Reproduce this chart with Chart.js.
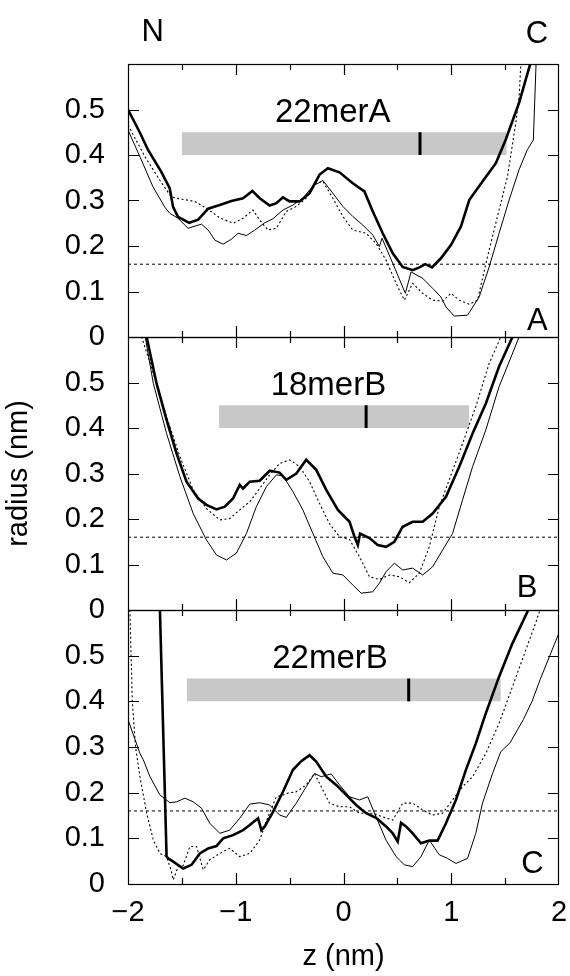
<!DOCTYPE html>
<html><head><meta charset="utf-8">
<script src="https://cdn.jsdelivr.net/npm/chart.js@4.4.0/dist/chart.umd.min.js"></script>
<style>
html,body{margin:0;padding:0;background:#fff;}
#wrap{position:relative;width:570px;height:976px;overflow:hidden;}
#wrap canvas{position:absolute;left:0;top:0;}
</style></head><body>
<div id="wrap">
<canvas id="cA" width="570" height="976"></canvas>
<canvas id="cB" width="570" height="976"></canvas>
<canvas id="cC" width="570" height="976"></canvas>
</div>
<script>
// ---------- data ----------
const zTickLabels = [-2, -1, 0, 1, 2];
const rTickLabels = [0, 0.1, 0.2, 0.3, 0.4, 0.5];
const panelNames = ['22merA', '18merB', '22merB'];
const panelLetters = ['A', 'B', 'C'];
const cutoffRadius = 0.16;
const barStart = [-1.5, -1.155, -1.455];
const barEnd = [1.515, 1.167, 1.46];
const barLow = 0.40;
const barHigh = 0.45;
const barMark = [0.71, 0.21, 0.605];

// panel A
const aThickZ = [-2, -1.889, -1.814, -1.691, -1.613, -1.582, -1.536, -1.432, -1.349, -1.256, -1.148, -1.04, -0.932, -0.846, -0.778, -0.685, -0.623, -0.562, -0.5, -0.407, -0.315, -0.222, -0.145, -0.037, 0.086, 0.194, 0.272, 0.364, 0.457, 0.549, 0.642, 0.704, 0.759, 0.821, 0.904, 0.997, 1.09, 1.167, 1.29, 1.414, 1.506, 1.63, 1.745];
const aThickR = [0.5, 0.449, 0.411, 0.363, 0.327, 0.286, 0.264, 0.251, 0.258, 0.282, 0.29, 0.299, 0.305, 0.321, 0.305, 0.289, 0.294, 0.307, 0.298, 0.298, 0.316, 0.357, 0.371, 0.362, 0.338, 0.32, 0.276, 0.228, 0.184, 0.154, 0.147, 0.153, 0.16, 0.153, 0.173, 0.202, 0.243, 0.301, 0.342, 0.382, 0.434, 0.515, 0.61];
const aThinZ = [-2, -1.876, -1.768, -1.66, -1.613, -1.536, -1.443, -1.318, -1.256, -1.194, -1.117, -1.04, -0.978, -0.901, -0.824, -0.731, -0.654, -0.562, -0.469, -0.377, -0.284, -0.191, -0.099, -0.006, 0.086, 0.179, 0.272, 0.333, 0.358, 0.457, 0.574, 0.627, 0.735, 0.827, 0.904, 0.951, 1.028, 1.151, 1.259, 1.352, 1.444, 1.537, 1.63, 1.707, 1.762, 1.787, 1.79];
const aThinR = [0.455, 0.389, 0.33, 0.286, 0.272, 0.261, 0.239, 0.248, 0.235, 0.213, 0.204, 0.215, 0.228, 0.223, 0.235, 0.251, 0.26, 0.279, 0.29, 0.305, 0.332, 0.344, 0.316, 0.287, 0.265, 0.246, 0.224, 0.199, 0.217, 0.162, 0.096, 0.143, 0.129, 0.107, 0.088, 0.066, 0.046, 0.048, 0.088, 0.154, 0.228, 0.301, 0.368, 0.412, 0.433, 0.6, 0.62];
const aDotZ = [-2, -1.845, -1.706, -1.598, -1.505, -1.38, -1.272, -1.148, -1.025, -0.932, -0.84, -0.778, -0.701, -0.623, -0.531, -0.438, -0.346, -0.253, -0.191, -0.099, -0.006, 0.086, 0.21, 0.302, 0.395, 0.488, 0.565, 0.642, 0.735, 0.827, 0.92, 0.997, 1.074, 1.167, 1.244, 1.336, 1.429, 1.522, 1.599, 1.63, 1.645, 1.65];
const aDotR = [0.466, 0.397, 0.345, 0.308, 0.303, 0.298, 0.283, 0.262, 0.25, 0.261, 0.279, 0.257, 0.235, 0.239, 0.276, 0.287, 0.305, 0.338, 0.342, 0.305, 0.265, 0.235, 0.228, 0.206, 0.169, 0.118, 0.081, 0.118, 0.096, 0.081, 0.079, 0.096, 0.081, 0.072, 0.081, 0.176, 0.265, 0.353, 0.471, 0.529, 0.596, 0.62];

// panel B
const bThickZ = [-1.86, -1.827, -1.735, -1.642, -1.549, -1.457, -1.349, -1.272, -1.179, -1.102, -1.025, -0.963, -0.932, -0.87, -0.778, -0.685, -0.593, -0.531, -0.438, -0.346, -0.253, -0.16, -0.052, 0.056, 0.102, 0.133, 0.154, 0.241, 0.318, 0.395, 0.472, 0.549, 0.642, 0.735, 0.827, 0.951, 1.074, 1.198, 1.321, 1.444, 1.568, 1.6];
const bThickR = [0.63, 0.6, 0.498, 0.418, 0.344, 0.282, 0.245, 0.231, 0.221, 0.227, 0.245, 0.275, 0.267, 0.282, 0.284, 0.306, 0.302, 0.286, 0.3, 0.33, 0.308, 0.264, 0.22, 0.194, 0.161, 0.143, 0.168, 0.158, 0.143, 0.139, 0.15, 0.183, 0.194, 0.194, 0.212, 0.249, 0.315, 0.388, 0.454, 0.535, 0.6, 0.62];
const bThinZ = [-1.87, -1.84, -1.765, -1.642, -1.518, -1.395, -1.272, -1.179, -1.086, -0.994, -0.901, -0.809, -0.716, -0.623, -0.562, -0.469, -0.377, -0.284, -0.191, -0.099, -0.006, 0.086, 0.164, 0.272, 0.333, 0.395, 0.472, 0.549, 0.642, 0.735, 0.827, 0.92, 1.012, 1.105, 1.198, 1.321, 1.444, 1.63, 1.66];
const bThinR = [0.63, 0.6, 0.498, 0.388, 0.293, 0.212, 0.154, 0.121, 0.11, 0.125, 0.168, 0.227, 0.271, 0.297, 0.295, 0.26, 0.22, 0.168, 0.117, 0.081, 0.077, 0.055, 0.037, 0.04, 0.059, 0.084, 0.103, 0.088, 0.092, 0.077, 0.095, 0.132, 0.168, 0.242, 0.315, 0.396, 0.491, 0.6, 0.62];
const bDotZ = [-1.9, -1.873, -1.765, -1.642, -1.518, -1.395, -1.272, -1.148, -1.056, -0.963, -0.87, -0.778, -0.685, -0.593, -0.5, -0.407, -0.315, -0.222, -0.13, -0.037, 0.056, 0.148, 0.241, 0.333, 0.426, 0.519, 0.611, 0.704, 0.796, 0.889, 0.981, 1.105, 1.228, 1.352, 1.46, 1.49];
const bDotR = [0.63, 0.6, 0.52, 0.425, 0.337, 0.264, 0.223, 0.198, 0.201, 0.22, 0.238, 0.267, 0.297, 0.322, 0.33, 0.315, 0.282, 0.234, 0.19, 0.161, 0.155, 0.117, 0.073, 0.067, 0.077, 0.073, 0.06, 0.081, 0.139, 0.227, 0.286, 0.366, 0.447, 0.542, 0.6, 0.62];

// panel C
const cThickZ = [-1.706, -1.642, -1.627, -1.58, -1.488, -1.41, -1.333, -1.256, -1.179, -1.117, -1.025, -0.932, -0.87, -0.793, -0.762, -0.731, -0.654, -0.562, -0.469, -0.392, -0.315, -0.253, -0.16, -0.068, 0.025, 0.117, 0.21, 0.302, 0.395, 0.457, 0.503, 0.534, 0.58, 0.642, 0.719, 0.796, 0.873, 0.951, 1.043, 1.136, 1.228, 1.321, 1.444, 1.568, 1.707, 1.72];
const cThickR = [0.62, 0.06, 0.056, 0.049, 0.034, 0.042, 0.067, 0.078, 0.083, 0.1, 0.107, 0.118, 0.129, 0.144, 0.118, 0.126, 0.158, 0.202, 0.25, 0.269, 0.282, 0.268, 0.235, 0.217, 0.195, 0.173, 0.155, 0.145, 0.126, 0.111, 0.093, 0.134, 0.126, 0.111, 0.089, 0.095, 0.095, 0.133, 0.184, 0.25, 0.308, 0.374, 0.454, 0.527, 0.596, 0.61];
const cThinZ = [-2, -1.889, -1.858, -1.796, -1.704, -1.611, -1.549, -1.472, -1.395, -1.318, -1.241, -1.148, -1.056, -0.963, -0.87, -0.778, -0.685, -0.593, -0.531, -0.438, -0.346, -0.269, -0.207, -0.114, -0.037, 0.056, 0.148, 0.225, 0.302, 0.395, 0.488, 0.565, 0.642, 0.719, 0.796, 0.889, 0.966, 1.043, 1.151, 1.228, 1.29, 1.383, 1.46, 1.545, 1.669, 1.75, 1.824, 2];
const cThinR = [0.36, 0.286, 0.272, 0.235, 0.195, 0.178, 0.18, 0.188, 0.18, 0.166, 0.133, 0.111, 0.118, 0.144, 0.175, 0.178, 0.173, 0.151, 0.146, 0.177, 0.213, 0.242, 0.235, 0.241, 0.217, 0.191, 0.184, 0.191, 0.147, 0.096, 0.06, 0.042, 0.038, 0.06, 0.096, 0.064, 0.056, 0.045, 0.056, 0.111, 0.177, 0.242, 0.29, 0.309, 0.36, 0.4, 0.447, 0.55];
const cDotZ = [-1.985, -1.96, -1.93, -1.889, -1.827, -1.765, -1.704, -1.642, -1.6, -1.58, -1.534, -1.488, -1.426, -1.364, -1.302, -1.241, -1.148, -1.056, -0.963, -0.87, -0.778, -0.701, -0.623, -0.562, -0.515, -0.438, -0.346, -0.269, -0.207, -0.13, -0.037, 0.056, 0.148, 0.272, 0.364, 0.457, 0.549, 0.642, 0.735, 0.827, 0.92, 1.012, 1.105, 1.198, 1.321, 1.444, 1.568, 1.691, 1.799, 1.85];
const cDotR = [0.62, 0.4, 0.3, 0.235, 0.155, 0.096, 0.067, 0.06, 0.03, 0.009, 0.038, 0.04, 0.082, 0.082, 0.031, 0.053, 0.067, 0.078, 0.06, 0.067, 0.096, 0.147, 0.191, 0.195, 0.199, 0.202, 0.217, 0.242, 0.213, 0.177, 0.169, 0.169, 0.155, 0.155, 0.147, 0.14, 0.177, 0.177, 0.162, 0.151, 0.155, 0.184, 0.213, 0.235, 0.286, 0.352, 0.432, 0.512, 0.582, 0.62];

const thickSeries = [[aThickZ, aThickR], [bThickZ, bThickR], [cThickZ, cThickR]];
const thinSeries = [[aThinZ, aThinR], [bThinZ, bThinR], [cThinZ, cThinR]];
const dotSeries = [[aDotZ, aDotR], [bDotZ, bDotR], [cDotZ, cDotR]];

// ---------- layout / style (not data) ----------
const FONT = '"Liberation Sans", Arial, Helvetica, sans-serif';
Chart.defaults.font.family = FONT;
Chart.defaults.color = '#000';
const plotLeft = 128, plotRight = 559;
const panelTops = [64, 337, 610];
const panelBottoms = [337, 610, 884];
const titlePos = [[-0.1, 0.472], [-0.14, 0.472], [-0.125, 0.472]];
const letterPos = [[1.80, 0.015], [1.703, 0.029], [1.754, 0.024]];
const endLabels = [{t: 'N', z: -1.77, r: 0.651}, {t: 'C', z: 1.796, r: 0.646}];

function pts(zs, rs) { return zs.map((z, i) => ({x: z, y: rs[i]})); }

const framePlugin = {
  id: 'frame',
  afterDatasetsDraw(chart, args, o) {
    const {ctx, chartArea: a} = chart;
    const xs = chart.scales.x, ys = chart.scales.y;
    ctx.save();
    ctx.strokeStyle = '#000';
    ctx.lineWidth = 1.2;
    ctx.strokeRect(a.left + 0.5, a.top + 0.5, a.right - a.left - 1, a.bottom - a.top);
    ctx.beginPath();
    for (let v = -1.5; v <= 1.51; v += 0.5) {
      const px = Math.round(xs.getPixelForValue(v)) + 0.5;
      const len = Math.abs(v - Math.round(v)) < 1e-6 ? 11 : 6;
      ctx.moveTo(px, a.top); ctx.lineTo(px, a.top + len);
      ctx.moveTo(px, a.bottom); ctx.lineTo(px, a.bottom - len);
    }
    for (let v = 0.1; v <= 0.51; v += 0.1) {
      const py = Math.round(ys.getPixelForValue(v)) + 0.5;
      ctx.moveTo(a.left, py); ctx.lineTo(a.left + 11, py);
      ctx.moveTo(a.right, py); ctx.lineTo(a.right - 11, py);
    }
    ctx.stroke();
    ctx.fillStyle = '#000';
    ctx.textAlign = 'center';
    ctx.textBaseline = 'alphabetic';
    ctx.font = '33px ' + FONT;
    ctx.fillText(o.title, xs.getPixelForValue(o.titlePos[0]), ys.getPixelForValue(o.titlePos[1]));
    ctx.font = '31px ' + FONT;
    ctx.fillText(o.letter, xs.getPixelForValue(o.letterPos[0]), ys.getPixelForValue(o.letterPos[1]));
    if (o.ends) {
      for (const e of o.ends) ctx.fillText(e.t, xs.getPixelForValue(e.z), ys.getPixelForValue(e.r));
    }
    ctx.restore();
  }
};

function makePanel(i) {
  const isLast = i === 2;
  // Chart.js draws dataset 0 last (on top): curves first, grey bar last.
  const datasets = [
    {data: pts(thickSeries[i][0], thickSeries[i][1]), borderColor: '#000', borderWidth: 2.6, pointRadius: 0},
    {data: pts(thinSeries[i][0], thinSeries[i][1]), borderColor: '#000', borderWidth: 1, pointRadius: 0},
    {data: pts(dotSeries[i][0], dotSeries[i][1]), borderColor: '#000', borderWidth: 1.1, borderDash: [2, 2.5], pointRadius: 0},
    {data: [{x: -2, y: cutoffRadius}, {x: 2, y: cutoffRadius}], borderColor: '#000', borderWidth: 1, borderDash: [3, 3], pointRadius: 0},
    {data: [{x: barMark[i], y: barLow}, {x: barMark[i], y: barHigh}], borderColor: '#000', borderWidth: 3, pointRadius: 0, borderCapStyle: 'butt'},
    {data: [{x: barStart[i], y: barHigh}, {x: barEnd[i], y: barHigh}], fill: {value: barLow}, backgroundColor: '#c8c8c8', borderWidth: 0, pointRadius: 0}
  ];
  datasets.forEach(d => { d.clip = 0; d.tension = 0; });
  const xOpts = {
    type: 'linear', min: -2, max: 2, display: isLast,
    grid: {display: false, drawTicks: false}, border: {display: false},
    ticks: {stepSize: 1, autoSkip: false, maxRotation: 0, padding: 12, font: {size: 29}, color: '#000',
            callback: v => zTickLabels.includes(v) ? (v < 0 ? '\u2212' + Math.abs(v) : String(v)) : ''},
    title: {display: isLast, text: 'z (nm)', font: {size: 29}, color: '#000', padding: {top: 0, bottom: 2}},
    afterFit: s => {
      s.paddingLeft = 0; s.paddingRight = 0;
      if (isLast) s.height = 976 - panelBottoms[2];
    }
  };
  return new Chart(document.getElementById(['cA', 'cB', 'cC'][i]), {
    type: 'line',
    data: {datasets},
    plugins: [framePlugin],
    options: {
      responsive: false, animation: false, devicePixelRatio: 1,
      layout: {padding: {left: 0, right: 570 - plotRight, top: panelTops[i], bottom: isLast ? 0 : 976 - panelBottoms[i]}},
      plugins: {
        legend: {display: false}, tooltip: {enabled: false},
        frame: {title: panelNames[i], titlePos: titlePos[i], letter: panelLetters[i], letterPos: letterPos[i], ends: i === 0 ? endLabels : null}
      },
      scales: {
        x: xOpts,
        y: {
          type: 'linear', min: 0, max: 0.6, position: 'left',
          grid: {display: false, drawTicks: false}, border: {display: false},
          ticks: {stepSize: 0.1, autoSkip: false, padding: 23, font: {size: 29}, color: '#000',
                  callback: v => { const r = Math.round(v * 10) / 10; return rTickLabels.includes(r) ? String(r) : ''; }},
          title: {display: i === 1, text: 'radius (nm)', font: {size: 29}, color: '#000', padding: {top: 2, bottom: 0}},
          afterFit: s => { s.width = plotLeft; }
        }
      }
    }
  });
}
[0, 1, 2].forEach(makePanel);
</script>
</body></html>
